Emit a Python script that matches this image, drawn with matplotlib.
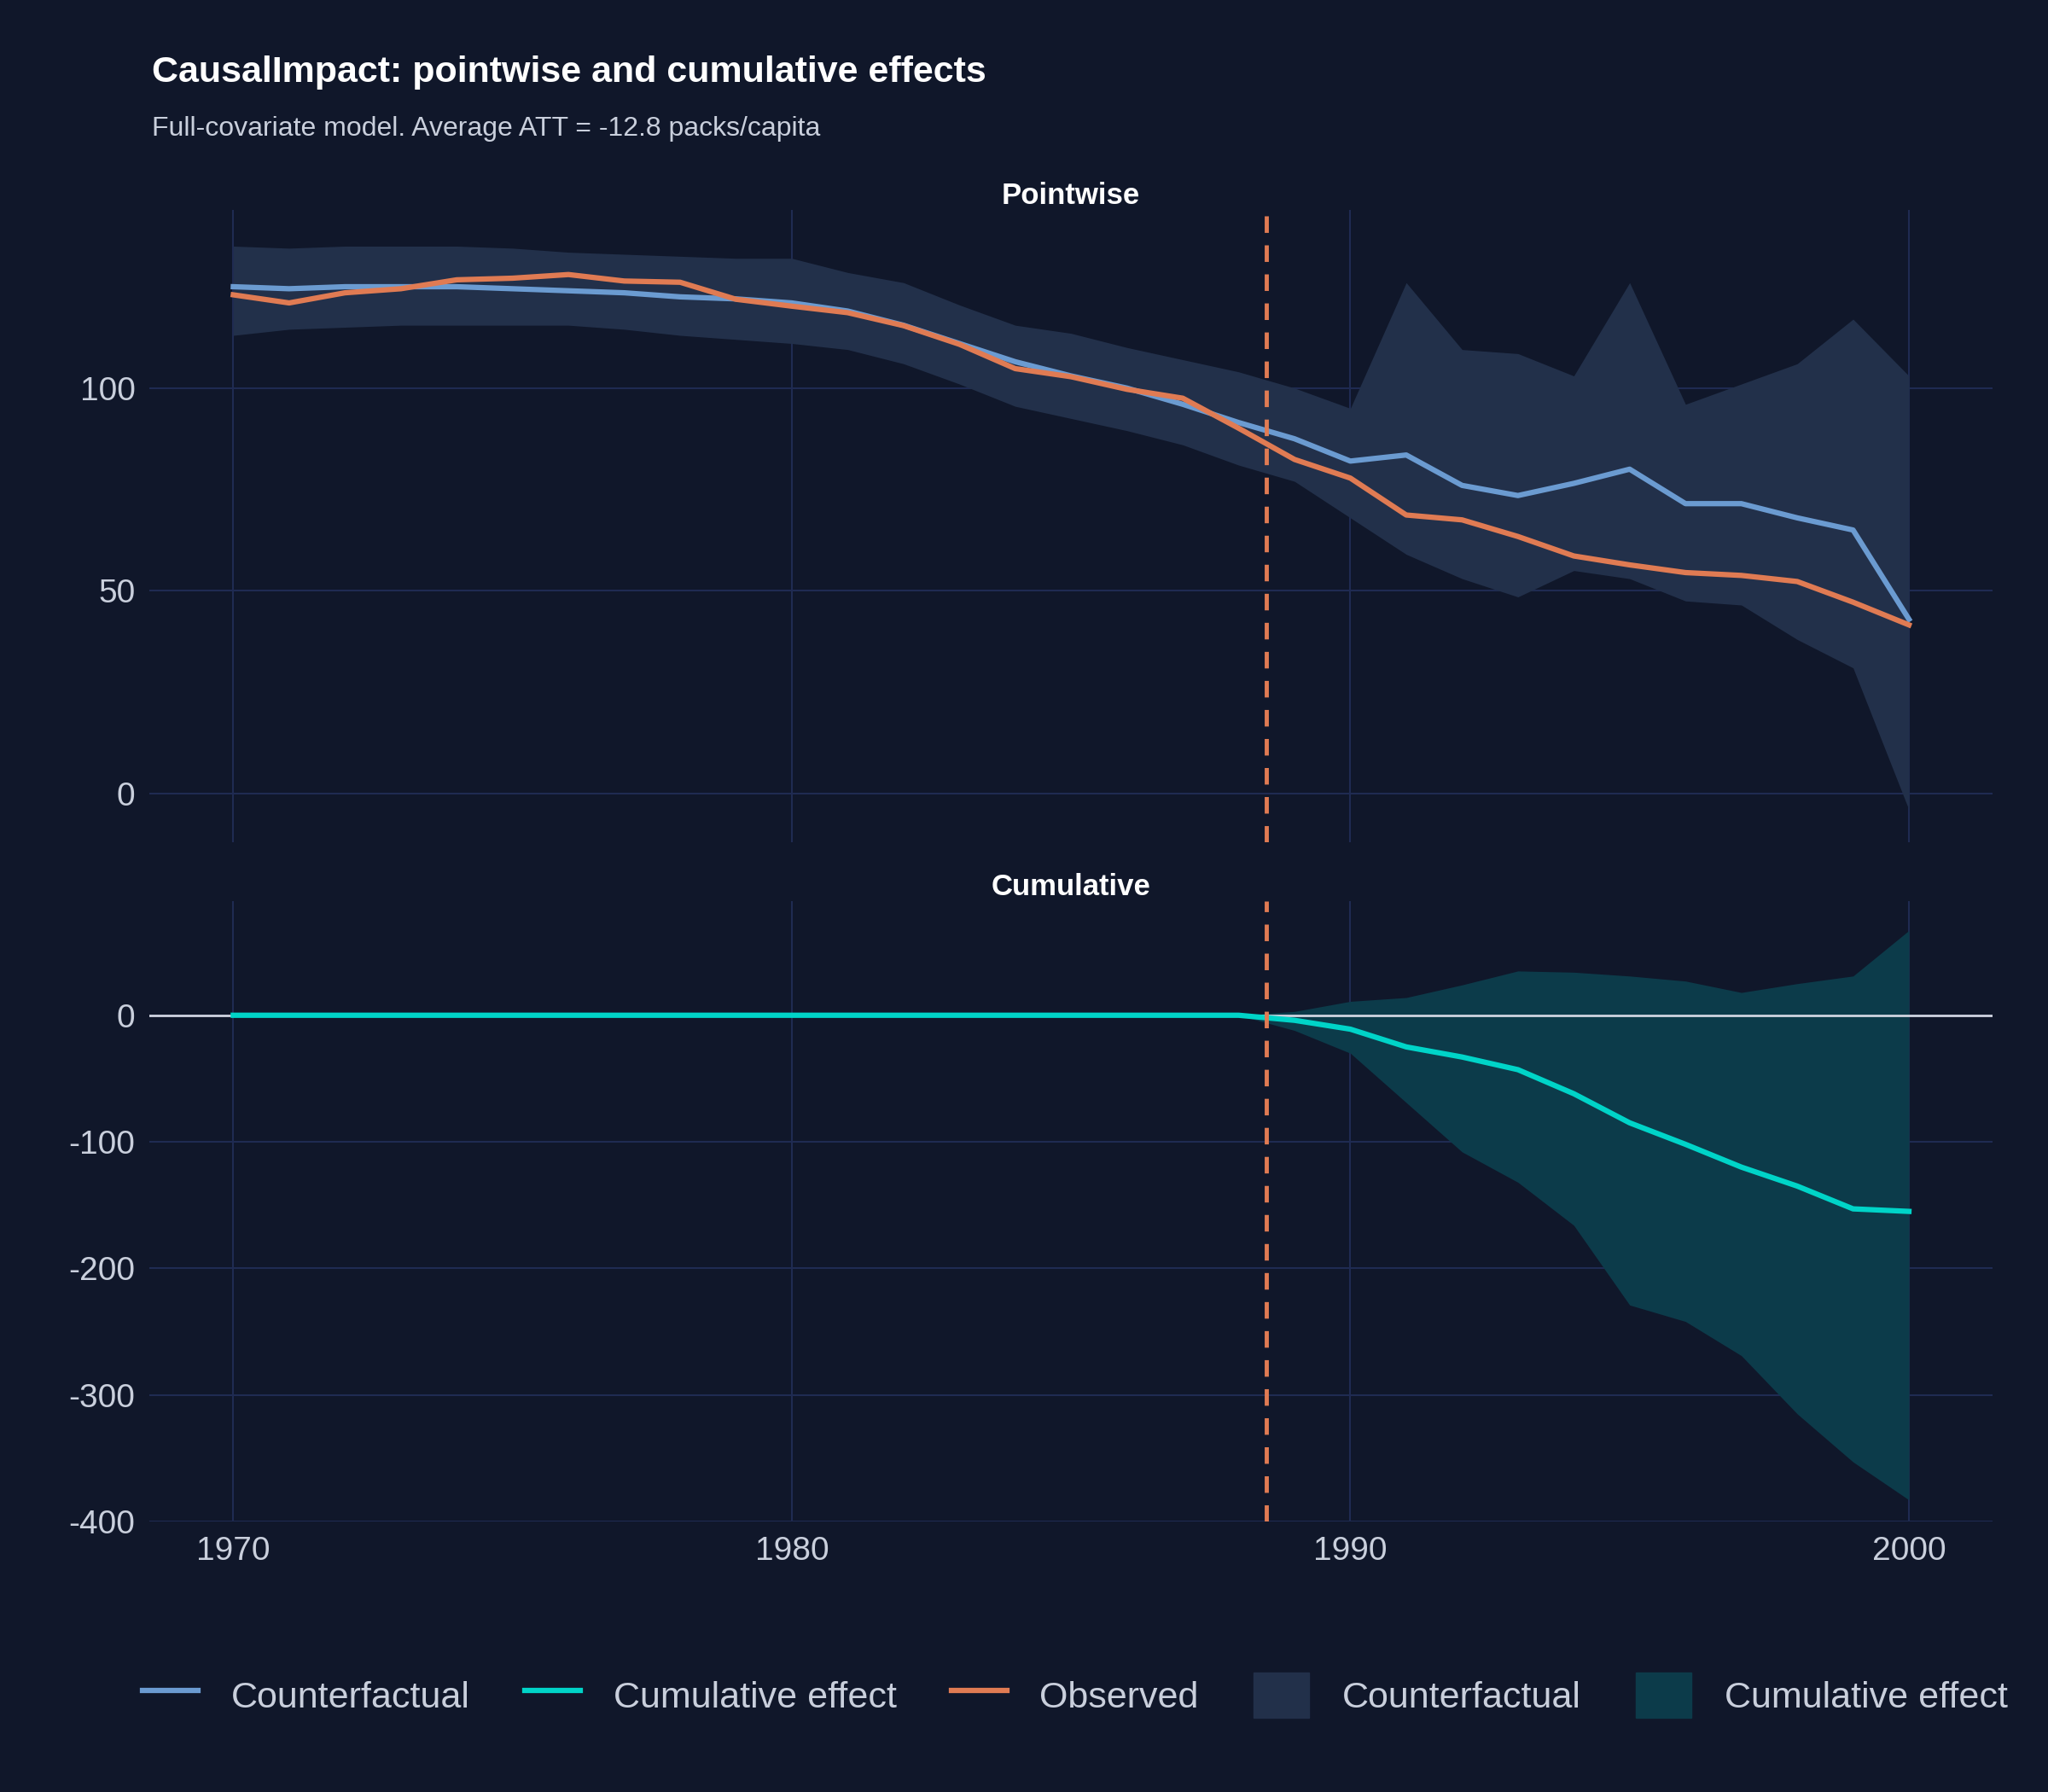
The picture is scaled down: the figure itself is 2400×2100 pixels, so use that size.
import matplotlib
matplotlib.use("Agg")
import matplotlib.pyplot as plt
from matplotlib.lines import Line2D
from matplotlib.patches import Patch
import numpy as np

plt.rcParams['font.family'] = ['Liberation Sans', 'DejaVu Sans']
plt.rcParams['axes.unicode_minus'] = False

years = list(range(1970, 2001))
counterfactual = [125, 124.5, 125, 125, 125, 124.5, 124, 123.5, 122.5, 122, 121, 119, 115.5, 111, 106.5,
                  103, 100, 96, 91.5, 87.5, 82, 83.5, 76, 73.5, 76.5, 80, 71.5, 71.5, 68, 65, 43]
observed = [123, 121, 123.5, 124.5, 126.7, 127.1, 128, 126.4, 126.1, 121.9, 120.2, 118.6, 115.4, 110.8, 104.8,
            102.8, 99.7, 97.5, 90.1, 82.4, 77.8, 68.7, 67.5, 63.4, 58.6, 56.4, 54.5, 53.8, 52.3, 47.2, 41.6]
cf_upper = [135, 134.5, 135, 135, 135, 134.5, 133.5, 133, 132.5, 132, 132, 128.5, 126, 120.5, 115.5,
            113.5, 110, 107, 104, 100, 95, 126, 109.5, 108.5, 103, 126, 96, 101, 106, 117, 103]
cf_lower = [113, 114.5, 115, 115.5, 115.5, 115.5, 115.5, 114.5, 113, 112, 111, 109.5, 106, 101, 95.5,
            92.5, 89.5, 86, 81, 77, 68, 59, 53, 48.5, 55, 53, 47.5, 46.5, 38, 31, -4]
cum_effect = [0]*19 + [-4, -11, -25, -33, -43, -62, -85, -102, -120, -135, -153, -155]
cum_upper = [0]*19 + [3, 11, 14, 24, 35, 34, 31, 27, 18, 25, 31, 67]
cum_lower = [0]*19 + [-12, -30, -69, -108, -132, -166, -229, -242, -269, -315, -353, -383]
intervention = 1988.5

BG = '#10172a'; GRID = '#1f2b52'; TXT = '#c9cfdc'
C_CF = '#6b9bd1'; C_OBS = '#e07b53'; C_CUM = '#00d4c8'
B_CF = '#22304a'; B_CUM = '#0c3b4a'

fig = plt.figure(figsize=(24, 21), dpi=100, facecolor=BG)
ax1 = fig.add_axes([0.073, 0.530, 0.900, 0.353])
ax2 = fig.add_axes([0.073, 0.151, 0.900, 0.346])

for ax in (ax1, ax2):
    ax.set_facecolor(BG)
    for s in ax.spines.values():
        s.set_visible(False)
    ax.grid(True, color=GRID, lw=1.5)
    ax.set_axisbelow(True)
    ax.tick_params(colors=TXT, labelsize=28, length=0, pad=12)
    ax.set_xlim(1968.5, 2001.5)
    ax.set_xticks([1970, 1980, 1990, 2000])
    ax.axvline(intervention, color=C_OBS, lw=3.5, ls=(0, (4, 3)), zorder=5)

ax1.fill_between(years, cf_lower, cf_upper, color=B_CF, lw=0)
ax1.plot(years, counterfactual, color=C_CF, lw=4.5)
ax1.plot(years, observed, color=C_OBS, lw=4.5)
ax1.set_ylim(-12, 144)
ax1.set_yticks([0, 50, 100])
ax1.tick_params(labelbottom=False)
ax1.set_title('Pointwise', color='white', fontsize=25, fontweight='bold', pad=4)

ax2.fill_between(years, cum_lower, cum_upper, color=B_CUM, lw=0)
ax2.axhline(0, color='#d0d4e0', lw=2)
ax2.plot(years, cum_effect, color=C_CUM, lw=4.5)
ax2.set_ylim(-400, 90)
ax2.set_yticks([-400, -300, -200, -100, 0])
ax2.set_title('Cumulative', color='white', fontsize=25, fontweight='bold', pad=4)

fig.text(0.074, 0.950, 'CausalImpact: pointwise and cumulative effects', color='white',
         fontsize=31, fontweight='bold', va='bottom')
fig.text(0.074, 0.921, 'Full-covariate model. Average ATT = -12.8 packs/capita', color=TXT,
         fontsize=23, va='bottom')

handles = [Line2D([], [], color=C_CF, lw=4.5), Line2D([], [], color=C_CUM, lw=4.5),
           Line2D([], [], color=C_OBS, lw=4.5), Patch(color=B_CF), Patch(color=B_CUM)]
labels = ['Counterfactual', 'Cumulative effect', 'Observed', 'Counterfactual', 'Cumulative effect']
leg = fig.legend(handles, labels, loc='center', bbox_to_anchor=(0.525, 0.054), ncol=5,
                 frameon=False, fontsize=31, labelcolor=TXT, handlelength=1.5, handleheight=1.5,
                 columnspacing=1.5, handletextpad=0.9)

fig.savefig('out.png', dpi=100, facecolor=BG)
